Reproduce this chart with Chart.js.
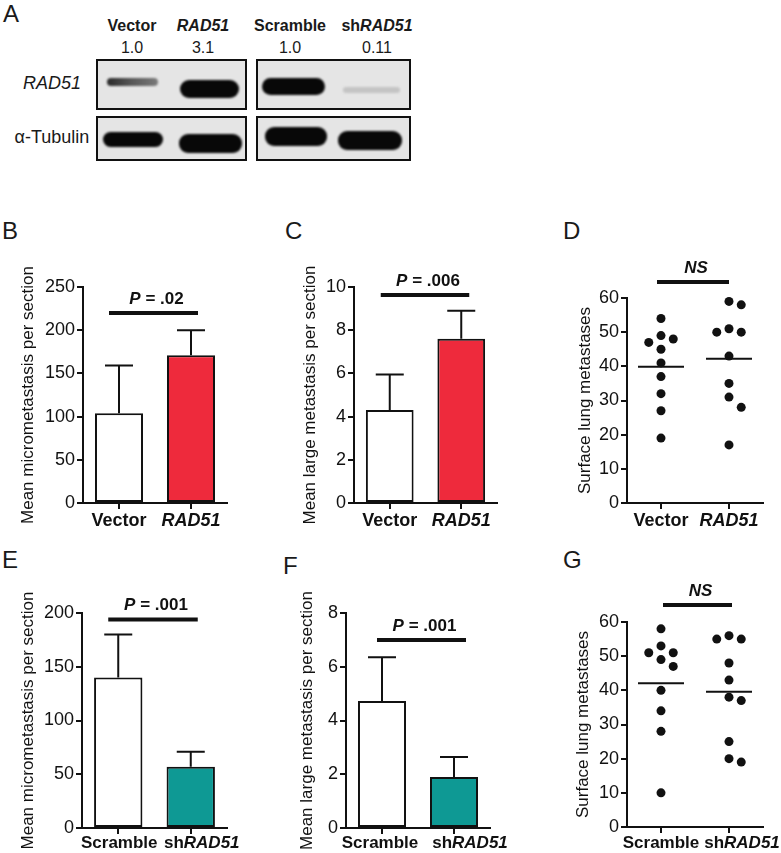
<!DOCTYPE html>
<html>
<head>
<meta charset="utf-8">
<script src="https://cdn.jsdelivr.net/npm/chart.js@4.4.1/dist/chart.umd.min.js"></script>
<style>
  body { margin: 0; width: 781px; height: 853px; position: relative; overflow: hidden; background: #fff;
         font-family: "Liberation Sans", Arial, sans-serif; color: #1a1a1a; }
  .letter { position: absolute; font-size: 24px; line-height: 24px; }
  .head { position: absolute; width: 100px; text-align: center; font-size: 16px; line-height: 16px; white-space: nowrap; }
  .rowlab { position: absolute; width: 100px; text-align: center; font-size: 18px; line-height: 18px; white-space: nowrap; }
  .blot { position: absolute; border: 2px solid #111; background: #e5e5e5; box-sizing: border-box; overflow: hidden; }
  .band { position: absolute; border-radius: 9px; background: #080808; filter: blur(1.2px); }
  canvas { position: absolute; }
</style>
</head>
<body>

<div class="letter" style="left:3px;top:2px">A</div>
<div class="letter" style="left:2px;top:219px">B</div>
<div class="letter" style="left:285px;top:219px">C</div>
<div class="letter" style="left:563px;top:219px">D</div>
<div class="letter" style="left:2px;top:548px">E</div>
<div class="letter" style="left:283px;top:554px">F</div>
<div class="letter" style="left:563px;top:548px">G</div>

<div id="blotA"></div>

<canvas id="chartB" width="240" height="290" style="left:0;top:250px"></canvas>
<canvas id="chartC" width="250" height="290" style="left:260px;top:250px"></canvas>
<canvas id="chartD" width="261" height="290" style="left:520px;top:250px"></canvas>
<canvas id="chartE" width="258" height="283" style="left:0;top:570px"></canvas>
<canvas id="chartF" width="258" height="283" style="left:260px;top:570px"></canvas>
<canvas id="chartG" width="261" height="283" style="left:520px;top:570px"></canvas>

<script>
// ---- data ----
const blotGroups = ["Vector", "RAD51", "Scramble", "shRAD51"];
const blotRatios = ["1.0", "3.1", "1.0", "0.11"];
const blotRows = ["RAD51", "α-Tubulin"];

const overGroups = ["Vector", "RAD51"];
const knockGroups = ["Scramble", "shRAD51"];

// B / C : overexpression
const microOverMean = [104, 171];
const microOverSem = [55, 29];
const largeOverMean = [4.3, 7.6];
const largeOverSem = [1.65, 1.3];

// E / F : knockdown
const microKnockMean = [140, 57];
const microKnockSem = [40, 14];
const largeKnockMean = [4.73, 1.9];
const largeKnockSem = [1.62, 0.74];

// D / G : surface lung metastases per mouse
const lungVector = [54, 49, 48, 47, 45, 41, 37, 32, 27, 19];
const lungRAD51 = [59, 58, 51, 50, 50, 43, 35, 31, 28, 17];
const lungScramble = [58, 53, 51, 51, 49, 47, 40, 34, 28, 10];
const lungShRAD51 = [56, 55, 55, 48, 43, 38, 37, 25, 20, 19];

const pB = ".02", pC = ".006", pE = ".001", pF = ".001";

const microOverTicks = [0, 50, 100, 150, 200, 250];
const largeOverTicks = [0, 2, 4, 6, 8, 10];
const microKnockTicks = [0, 50, 100, 150, 200];
const largeKnockTicks = [0, 2, 4, 6, 8];
const lungTicks = [0, 10, 20, 30, 40, 50, 60];

const INK = "#111";
const RED = "#ee2a3c";
const TEAL = "#0e9994";
const FONT = '"Liberation Sans", Arial, sans-serif';

// gene names are set in italics
function geneHtml(label) {
    return label.replace("RAD51", "<i>RAD51</i>");
}
function geneParts(label) {
    const k = label.indexOf("RAD51");
    if (k < 0) return [{ t: label }];
    const parts = [];
    if (k > 0) parts.push({ t: label.slice(0, k) });
    parts.push({ t: "RAD51", it: true });
    return parts;
}
function pParts(p) {
    return [{ t: "P", it: true }, { t: " = " + p }];
}

/** panel A: western blot (drawn with plain boxes) **/
const blot = document.getElementById("blotA");
const headX = [132, 203, 290, 377];
blotGroups.forEach((g, i) => {
    blot.insertAdjacentHTML("beforeend",
        `<div class="head" style="left:${headX[i] - 50}px;top:18px;font-weight:bold">${geneHtml(g)}</div>` +
        `<div class="head" style="left:${headX[i] - 50}px;top:40px">${blotRatios[i]}</div>`);
});
blot.insertAdjacentHTML("beforeend",
    `<div class="rowlab" style="left:2px;top:74px"><i>${blotRows[0]}</i></div>` +
    `<div class="rowlab" style="left:2px;top:128px">${blotRows[1]}</div>` +
    `<div class="blot" style="left:96px;top:59px;width:151px;height:51px">
        <div class="band" style="left:9px;top:17px;width:51px;height:8px;background:linear-gradient(90deg,#2a2a2a,#555 45%,#7a7a7a);border-radius:5px"></div>
        <div class="band" style="left:82px;top:19px;width:59px;height:18px"></div>
     </div>` +
    `<div class="blot" style="left:256px;top:59px;width:155px;height:51px">
        <div class="band" style="left:4px;top:17px;width:63px;height:17px"></div>
        <div class="band" style="left:85px;top:26px;width:57px;height:6px;background:#c4c4c4;border-radius:4px"></div>
     </div>` +
    `<div class="blot" style="left:96px;top:116px;width:151px;height:45px">
        <div class="band" style="left:5px;top:14px;width:60px;height:15px"></div>
        <div class="band" style="left:81px;top:16px;width:63px;height:19px"></div>
     </div>` +
    `<div class="blot" style="left:256px;top:116px;width:155px;height:45px">
        <div class="band" style="left:7px;top:9px;width:62px;height:19px"></div>
        <div class="band" style="left:80px;top:13px;width:64px;height:19px"></div>
     </div>`);

/** rich text helper (bold, optional italic parts) **/
function drawRich(ctx, parts, cx, cy, size) {
    const fontOf = p => (p.it ? "italic " : "") + "bold " + size + "px " + FONT;
    let w = 0;
    parts.forEach(p => { ctx.font = fontOf(p); w += ctx.measureText(p.t).width; });
    let x = cx - w / 2;
    ctx.textAlign = "left";
    ctx.textBaseline = "middle";
    parts.forEach(p => {
        ctx.font = fontOf(p);
        ctx.fillText(p.t, x, cy);
        x += ctx.measureText(p.t).width;
    });
}

/** error whiskers, significance bar, mean lines, group labels **/
const extras = {
    id: "extras",
    afterDatasetsDraw(chart, args, opts) {
        const ctx = chart.ctx;
        const xs = chart.scales.x, ys = chart.scales.y;
        const area = chart.chartArea;
        const centers = [xs.getPixelForTick(0), xs.getPixelForTick(1)];
        ctx.save();
        ctx.strokeStyle = INK;
        ctx.fillStyle = INK;
        ctx.lineWidth = 2;

        if (opts.sem) {
            chart.getDatasetMeta(0).data.forEach((bar, i) => {
                const m = opts.means[i];
                const top = ys.getPixelForValue(m + opts.sem[i]);
                ctx.beginPath();
                ctx.moveTo(bar.x, ys.getPixelForValue(m));
                ctx.lineTo(bar.x, top);
                ctx.moveTo(bar.x - 14, top);
                ctx.lineTo(bar.x + 14, top);
                ctx.stroke();
            });
        }

        if (opts.groups) {
            opts.groups.forEach((vals, i) => {
                const mean = vals.reduce((a, b) => a + b, 0) / vals.length;
                const yy = ys.getPixelForValue(mean);
                ctx.beginPath();
                ctx.moveTo(centers[i] - 23, yy);
                ctx.lineTo(centers[i] + 23, yy);
                ctx.stroke();
            });
        }

        // significance bar
        const sy = ys.getPixelForValue(opts.sigLevel);
        const x1 = centers[0] + opts.sigSpan[0], x2 = centers[1] + opts.sigSpan[1];
        ctx.lineWidth = 4;
        ctx.beginPath();
        ctx.moveTo(x1, sy);
        ctx.lineTo(x2, sy);
        ctx.stroke();
        drawRich(ctx, opts.sigText, (x1 + x2) / 2 + 3, sy - 14, 17);

        // group labels under the x axis
        opts.labels.forEach((lab, i) => {
            drawRich(ctx, geneParts(lab), centers[i] + opts.labelShift[i], area.bottom + opts.labelGap, opts.labelSize);
        });
        ctx.restore();
    }
};

function yAxis(tickList, title, box) {
    return {
        min: tickList[0],
        max: tickList[tickList.length - 1],
        afterBuildTicks: s => { s.ticks = tickList.map(v => ({ value: v })); },
        afterFit: s => { s.width = box.yWidth; },
        border: { color: INK, width: 2 },
        grid: { drawOnChartArea: false, tickLength: 6, color: INK, lineWidth: 2 },
        ticks: { color: INK, padding: 2, font: { family: FONT, size: 18 } },
        title: {
            display: true, text: title, color: INK,
            font: { family: FONT, size: 17 },
            padding: { top: box.titlePad, bottom: 0 }
        }
    };
}

function xAxisCommon(box) {
    return {
        afterFit: s => { s.height = box.xHeight; },
        border: { color: INK, width: 2 },
        grid: { drawOnChartArea: false, offset: false, tickLength: 6, color: INK, lineWidth: 2 },
        ticks: { display: false }
    };
}

function labelOpts(box) {
    return { labelGap: box.labelGap, labelSize: box.labelSize, labelShift: box.labelShift };
}

function makeBarChart(id, groups, means, sem, fill, tickList, title, p, box) {
    return new Chart(document.getElementById(id), {
        type: "bar",
        data: {
            labels: groups,
            datasets: [{
                data: means,
                backgroundColor: ["#ffffff", fill],
                borderColor: INK,
                borderWidth: 2,
                borderSkipped: false,
                barPercentage: 0.667,
                categoryPercentage: 1
            }]
        },
        options: {
            responsive: false,
            animation: false,
            devicePixelRatio: 1,
            layout: { padding: { left: 0, top: box.top, right: box.right, bottom: 0 } },
            scales: {
                x: Object.assign({ type: "category", offset: true }, xAxisCommon(box)),
                y: yAxis(tickList, title, box)
            },
            plugins: {
                legend: { display: false },
                tooltip: { enabled: false },
                extras: Object.assign({
                    means: means, sem: sem,
                    sigLevel: box.sigLevel, sigSpan: box.sigSpan, sigText: pParts(p),
                    labels: groups
                }, labelOpts(box))
            }
        },
        plugins: [extras]
    });
}

// spread overlapping dots sideways (column scatter)
function swarm(values, xStep, vStep) {
    const placed = [];
    const offsets = new Array(values.length).fill(0);
    const order = values.map((v, i) => i).sort((a, b) => values[b] - values[a]);
    order.forEach(i => {
        const v = values[i];
        for (let k = 0; k < 20; k++) {
            const c = k === 0 ? 0 : (k % 2 ? 1 : -1) * Math.ceil(k / 2);
            const clash = placed.some(q => (q.c - c) ** 2 + ((q.v - v) / vStep) ** 2 < 1);
            if (!clash) { offsets[i] = c * xStep; placed.push({ c: c, v: v }); break; }
        }
    });
    return offsets;
}

function makeDotChart(id, groups, seriesA, seriesB, tickList, title, box) {
    const datasets = [seriesA, seriesB].map((vals, g) => {
        const off = swarm(vals, 0.18, 3.5);
        return {
            data: vals.map((v, i) => ({ x: g + 1 + off[i], y: v })),
            backgroundColor: INK,
            borderWidth: 0,
            pointRadius: 4.5,
            clip: false
        };
    });
    return new Chart(document.getElementById(id), {
        type: "scatter",
        data: { datasets: datasets },
        options: {
            responsive: false,
            animation: false,
            devicePixelRatio: 1,
            layout: { padding: { left: 0, top: box.top, right: box.right, bottom: 0 } },
            scales: {
                x: Object.assign({
                    type: "linear", min: 0.5, max: 2.5,
                    afterBuildTicks: s => { s.ticks = [{ value: 1 }, { value: 2 }]; }
                }, xAxisCommon(box)),
                y: yAxis(tickList, title, box)
            },
            plugins: {
                legend: { display: false },
                tooltip: { enabled: false },
                extras: Object.assign({
                    groups: [seriesA, seriesB],
                    sigLevel: box.sigLevel, sigSpan: box.sigSpan, sigText: [{ t: "NS", it: true }],
                    labels: groups
                }, labelOpts(box))
            }
        },
        plugins: [extras]
    });
}

document.addEventListener("DOMContentLoaded", function () {
    makeBarChart("chartB", overGroups, microOverMean, microOverSem, RED, microOverTicks,
        "Mean micrometastasis per section", pB,
        { yWidth: 83, top: 37, right: 13, xHeight: 37, titlePad: 18, sigLevel: 220, sigSpan: [-10, 7],
          labelGap: 18, labelSize: 18, labelShift: [0, 0] });

    makeBarChart("chartC", overGroups, largeOverMean, largeOverSem, RED, largeOverTicks,
        "Mean large metastasis per section", pC,
        { yWidth: 94, top: 37, right: 13, xHeight: 37, titlePad: 40, sigLevel: 9.63, sigSpan: [-9, 8],
          labelGap: 18, labelSize: 18, labelShift: [0, 0] });

    makeDotChart("chartD", overGroups, lungVector, lungRAD51, lungTicks,
        "Surface lung metastases",
        { yWidth: 107, top: 48, right: 18, xHeight: 37, titlePad: 55, sigLevel: 64.7, sigSpan: [-4, 0],
          labelGap: 18, labelSize: 18, labelShift: [0, 0] });

    makeBarChart("chartE", knockGroups, microKnockMean, microKnockSem, TEAL, microKnockTicks,
        "Mean micrometastasis per section", pE,
        { yWidth: 82, top: 43, right: 31, xHeight: 25, titlePad: 18, sigLevel: 194, sigSpan: [-10, 7],
          labelGap: 15, labelSize: 17, labelShift: [1, 11] });

    makeBarChart("chartF", knockGroups, largeKnockMean, largeKnockSem, TEAL, largeKnockTicks,
        "Mean large metastasis per section", pF,
        { yWidth: 86, top: 43, right: 28, xHeight: 25, titlePad: 37, sigLevel: 7.0, sigSpan: [-5, 12],
          labelGap: 15, labelSize: 17, labelShift: [-2, 16] });

    makeDotChart("chartG", knockGroups, lungScramble, lungShRAD51, lungTicks,
        "Surface lung metastases",
        { yWidth: 107, top: 52, right: 18, xHeight: 26, titlePad: 53, sigLevel: 65, sigSpan: [2, 3],
          labelGap: 16, labelSize: 17, labelShift: [0, 13] });
});
</script>
</body>
</html>
